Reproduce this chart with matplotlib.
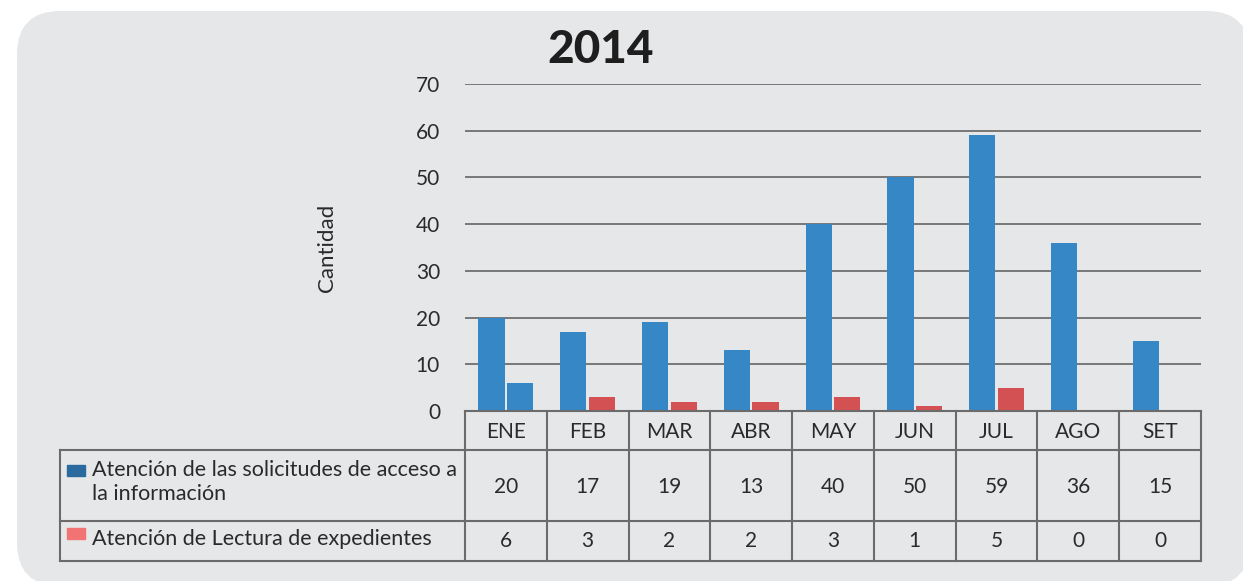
import matplotlib.pyplot as plt
from matplotlib.patches import FancyBboxPatch, Rectangle
import numpy as np

plt.rcParams["font.family"] = ["Lato", "DejaVu Sans"]

months = ["ENE", "FEB", "MAR", "ABR", "MAY", "JUN", "JUL", "AGO", "SET"]
solicitudes = [20, 17, 19, 13, 40, 50, 59, 36, 15]
lectura = [6, 3, 2, 2, 3, 1, 5, 0, 0]
series_labels = [
    "Atención de las solicitudes de acceso a\nla información",
    "Atención de Lectura de expedientes",
]
yticks = [0, 10, 20, 30, 40, 50, 60, 70]

W, H = 1243, 581
bar_blue = "#3687c6"
bar_red = "#d35152"
key_blue = "#2b6a9e"
key_red = "#f27373"
line_col = "#6b6b6b"
text_col = "#2a2a2a"
fs = 15


def fx(x):
    return x / W


def fy(y):
    return 1 - y / H


fig = plt.figure(figsize=(W / 100, H / 100), dpi=100)
fig.patch.set_facecolor("white")

# grey panel behind everything
panel = FancyBboxPatch(
    (fx(17), fy(586)), fx(1250 - 17), (586 - 11) / H,
    boxstyle="round,pad=0,rounding_size=0.035",
    mutation_aspect=W / H,
    transform=fig.transFigure, facecolor="#e6e7e9", edgecolor="none", zorder=-5,
)
fig.patches.append(panel)

left, right, top, bottom = 465, 1201, 84, 411
ax = fig.add_axes([fx(left), fy(bottom), fx(right - left), (bottom - top) / H])
ax.set_facecolor("none")
ax.set_zorder(2)

x = np.arange(len(months))
width = 0.32
ax.bar(x - 0.175, solicitudes, width, color=bar_blue, zorder=3)
# the first month's second bar is drawn in blue as well
red_colors = [bar_blue] + [bar_red] * (len(months) - 1)
ax.bar(x + 0.175, lectura, width, color=red_colors, zorder=3)

ax.set_xlim(-0.5, len(months) - 0.5)
ax.set_ylim(0, 70)
ax.set_yticks(yticks)
ax.set_yticklabels([str(t) for t in yticks], fontsize=fs, color=text_col)
ax.set_xticks([])
ax.tick_params(axis="y", length=0, pad=18)
for t in yticks[1:]:
    ax.axhline(t, color="#5a5a5a", lw=1.1, zorder=1)
for s in ax.spines.values():
    s.set_visible(False)

ax.set_ylabel("Cantidad", fontsize=fs + 1, color=text_col, labelpad=57)

fig.text(fx(601), fy(50), "2014", fontsize=33, fontweight="black",
         color="#1e1e1e", ha="center", va="center")

# data table under the bars
col_w = (right - left) / len(months)
rows = [411, 450, 521, 561]
tline = dict(color=line_col, lw=1.5, transform=fig.transFigure, zorder=4)

fig.add_artist(plt.Line2D([fx(left), fx(right)], [fy(rows[0])] * 2, **tline))
for y in rows[1:]:
    fig.add_artist(plt.Line2D([fx(60), fx(right)], [fy(y)] * 2, **tline))
fig.add_artist(plt.Line2D([fx(60)] * 2, [fy(rows[1]), fy(rows[3])], **tline))
for i in range(len(months) + 1):
    xp = left + i * col_w
    fig.add_artist(plt.Line2D([fx(xp)] * 2, [fy(rows[0]), fy(rows[3])], **tline))

for i, m in enumerate(months):
    xc = fx(left + (i + 0.5) * col_w)
    fig.text(xc, fy(432), m, fontsize=fs, color=text_col, ha="center", va="center")
    fig.text(xc, fy(487), str(solicitudes[i]), fontsize=fs, color=text_col,
             ha="center", va="center")
    fig.text(xc, fy(541), str(lectura[i]), fontsize=fs, color=text_col,
             ha="center", va="center")

fig.add_artist(Rectangle((fx(67), fy(476)), fx(18), 11 / H, color=key_blue,
                         transform=fig.transFigure))
fig.add_artist(Rectangle((fx(67), fy(539)), fx(18), 11 / H, color=key_red,
                         transform=fig.transFigure))
fig.text(fx(92), fy(482), series_labels[0], fontsize=fs + 0.5, color=text_col,
         ha="left", va="center", linespacing=1.2)
fig.text(fx(92), fy(539), series_labels[1], fontsize=fs + 0.5, color=text_col,
         ha="left", va="center")

fig.savefig("out.png", dpi=100)
